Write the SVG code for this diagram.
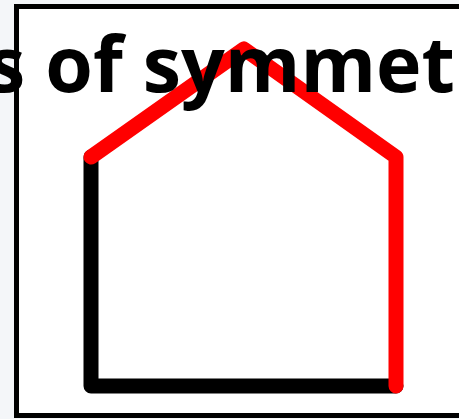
<svg xmlns="http://www.w3.org/2000/svg" width="459" height="419" viewBox="0 0 459 419">
<style>
.frame{fill:#ffffff;stroke:#000000;stroke-width:5}
.line{fill:none;stroke-width:15;stroke-linecap:round;stroke-linejoin:round}
.title{font-family:"Open Sans","Noto Sans",sans-serif;font-weight:700;font-size:77px;fill:#000000}
</style>
<rect x="0" y="0" width="459" height="419" fill="#f4f6f9"/>
<rect class="frame" x="16.5" y="6.5" width="460" height="409"/>
<g id="connectors">
<path class="line" stroke="#000000" d="M91,157 L91,386 L396,386"/>
<path class="line" stroke="#ff0000" d="M91,157 L244,49 L396,157 L396,386"/>
</g>
<g id="title">
<text class="title" x="-13" y="92">s of symmet</text>
</g>
</svg>
